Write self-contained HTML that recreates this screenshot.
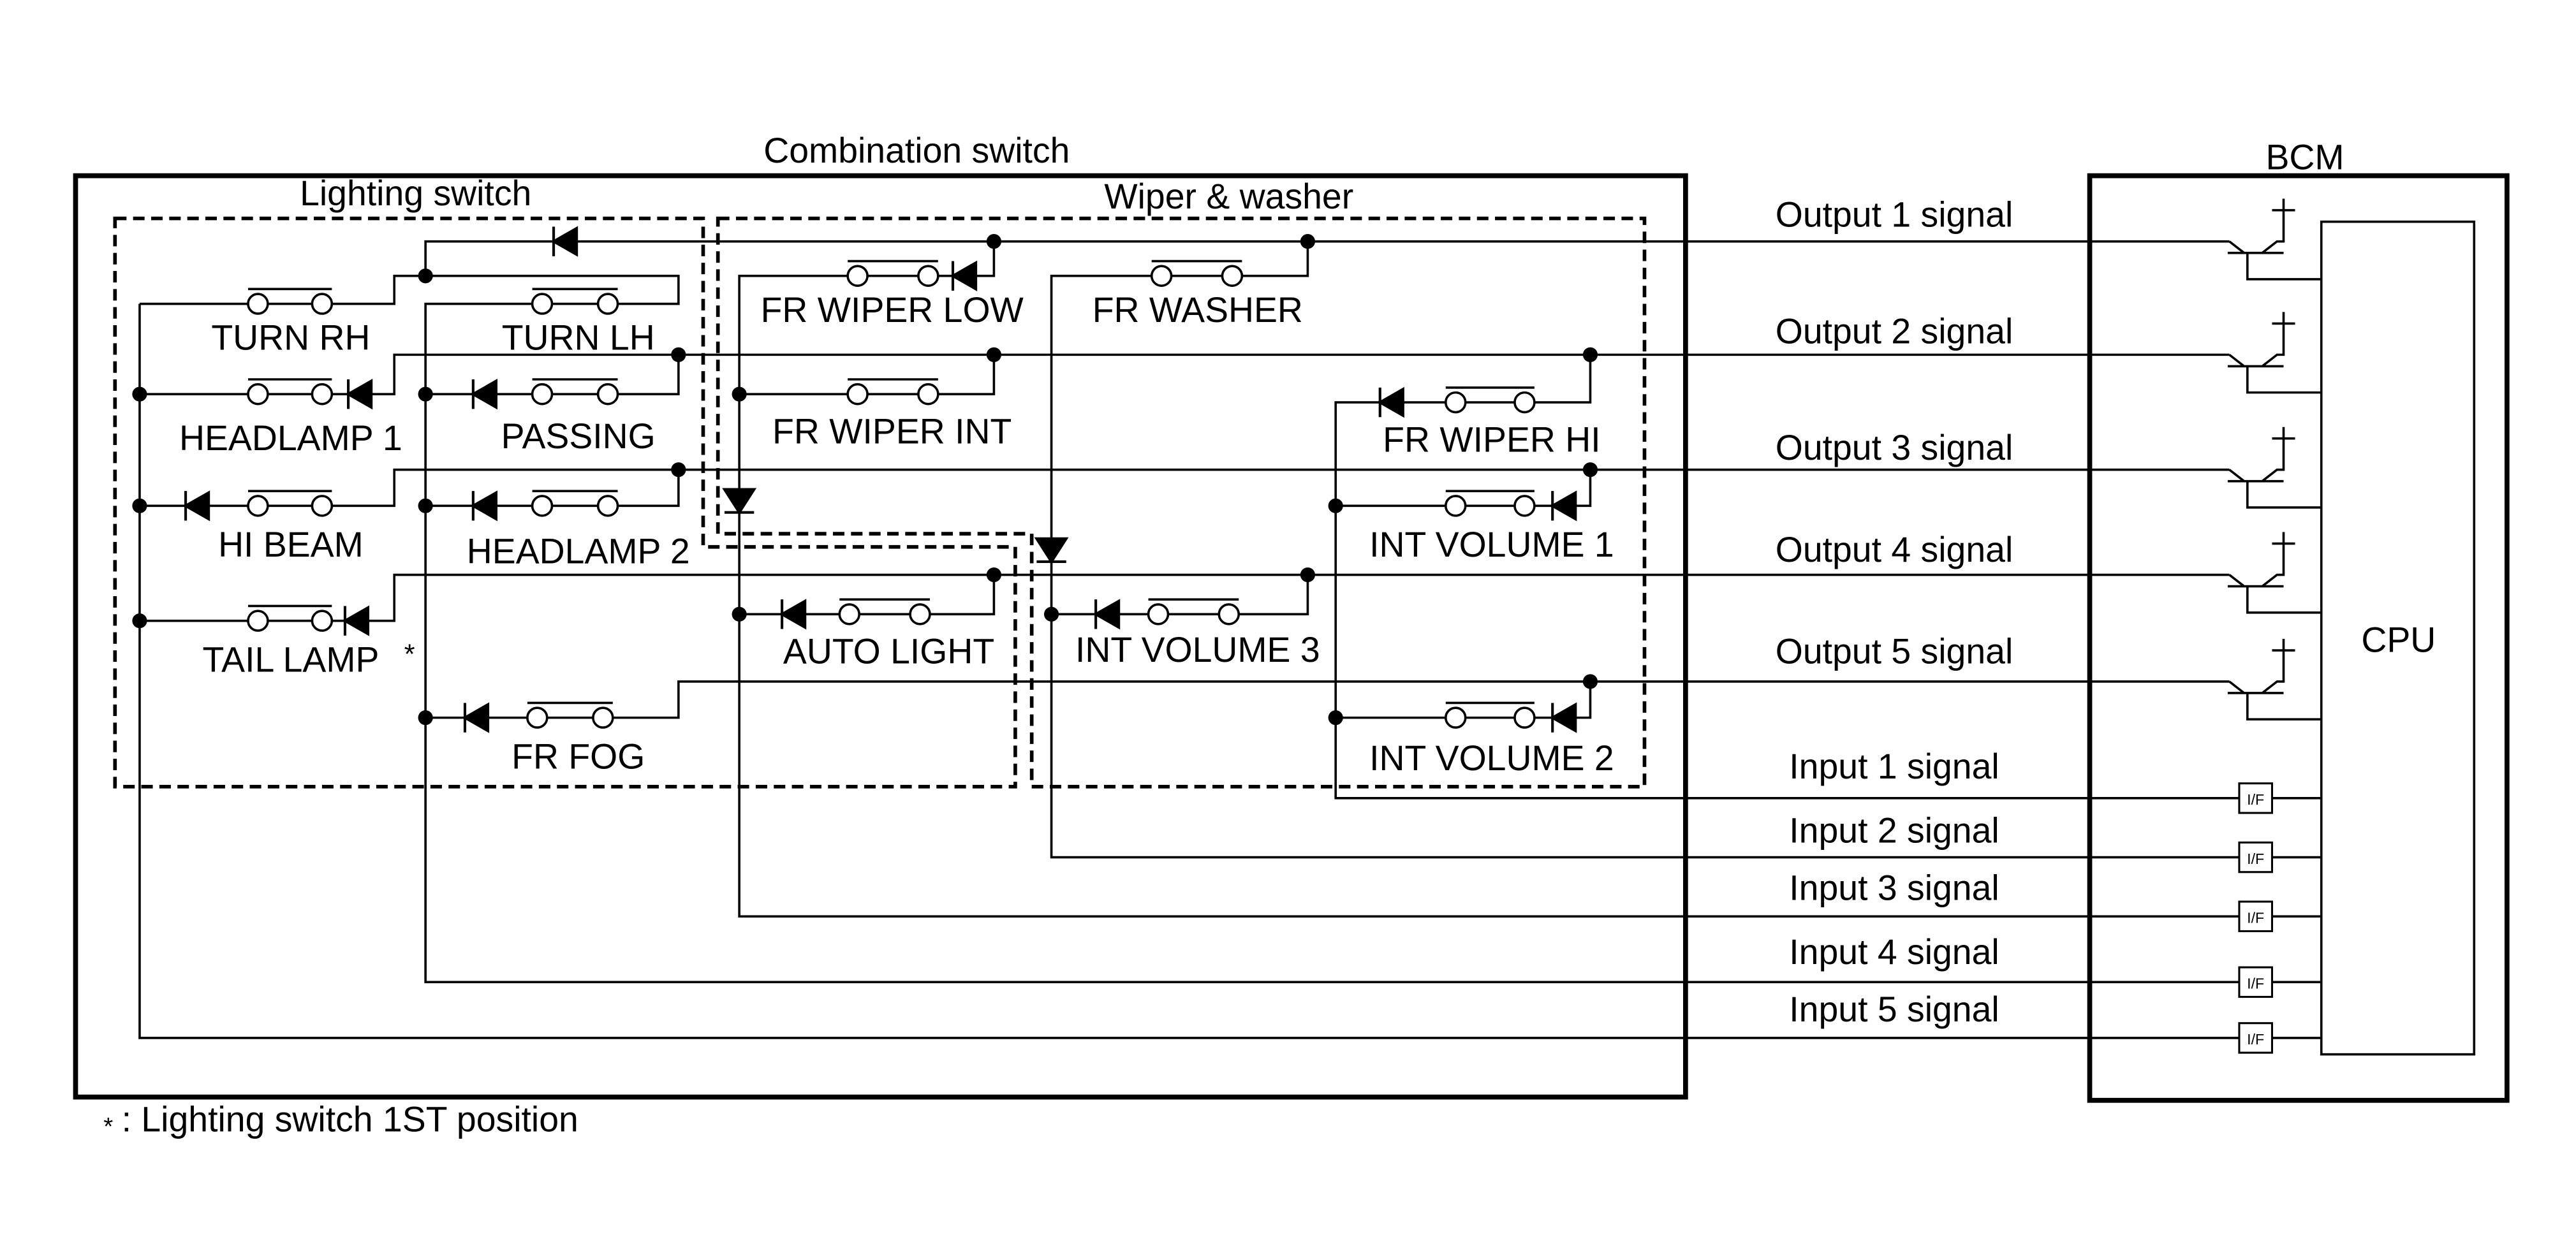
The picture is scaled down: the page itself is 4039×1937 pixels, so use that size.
<!DOCTYPE html>
<html><head><meta charset="utf-8"><style>
html,body{margin:0;padding:0;background:#fff;}
svg{display:block;}
text{font-family:"Liberation Sans",sans-serif;font-size:21.5px;fill:#000;}
</style></head><body>
<svg width="4039" height="1937" viewBox="0 0 1568 752" preserveAspectRatio="none" xmlns="http://www.w3.org/2000/svg">
<rect width="1568" height="752" fill="#fff"/>
<rect x="46" y="107" width="980" height="561" fill="none" stroke="#000" stroke-width="3"/>
<rect x="1272" y="107" width="254" height="563" fill="none" stroke="#000" stroke-width="3"/>
<rect x="1413" y="135" width="93" height="507" fill="none" stroke="#000" stroke-width="1.4"/>
<g fill="none" stroke="#000" stroke-width="2.2" stroke-dasharray="7,4">
<path d="M70 133 H428 V333 H618 V479 H70 Z"/>
<path d="M437 133 H1001 V479 H628 V325 H437 Z"/>
</g>
<text x="558" y="99" text-anchor="middle">Combination switch</text>
<text x="1403" y="103" text-anchor="middle">BCM</text>
<text x="253" y="125" text-anchor="middle">Lighting switch</text>
<text x="748" y="127" text-anchor="middle">Wiper &amp; washer</text>
<text x="1460" y="397" text-anchor="middle">CPU</text>
<g fill="none" stroke="#000" stroke-width="1.4">
<path d="M259 168 V147 H1357"/>
<path d="M85 185 H240 V168 H413 V185 H259 V598 H1363"/>
<path d="M85 185 V632 H1363"/>
<path d="M85 240 H240 V216 H1357"/>
<path d="M85 308 H240 V286 H1357"/>
<path d="M85 378 H240 V350 H1357"/>
<path d="M259 240 H413 V216"/>
<path d="M259 308 H413 V286"/>
<path d="M259 437 H413 V415 H1357"/>
<path d="M605 147 V168 H450 V558 H1363"/>
<path d="M450 240 H605 V216"/>
<path d="M796 147 V168 H640 V522 H1363"/>
<path d="M450 374 H605 V350"/>
<path d="M640 374 H796 V350"/>
<path d="M968 216 V245 H813 V486 H1363"/>
<path d="M813 308 H968 V286"/>
<path d="M813 437 H968 V415"/>
<path d="M1383 486 H1413 M1383 522 H1413 M1383 558 H1413 M1383 598 H1413 M1383 632 H1413"/>
<path d="M1357 147 L1366 154 M1356 154 H1390 M1368 154 V170 H1413 M1377 154 L1386 147 H1390 V135 M1383 128 H1397 M1390 121 V135"/>
<path d="M1357 216 L1366 223 M1356 223 H1390 M1368 223 V239 H1413 M1377 223 L1386 216 H1390 V204 M1383 197 H1397 M1390 190 V204"/>
<path d="M1357 286 L1366 293 M1356 293 H1390 M1368 293 V309 H1413 M1377 293 L1386 286 H1390 V274 M1383 267 H1397 M1390 260 V274"/>
<path d="M1357 350 L1366 357 M1356 357 H1390 M1368 357 V373 H1413 M1377 357 L1386 350 H1390 V338 M1383 331 H1397 M1390 324 V338"/>
<path d="M1357 415 L1366 422 M1356 422 H1390 M1368 422 V438 H1413 M1377 422 L1386 415 H1390 V403 M1383 396 H1397 M1390 389 V403"/>
</g>
<g fill="#fff" stroke="#000" stroke-width="1.2">
<rect x="1363" y="477" width="20" height="18"/>
<rect x="1363" y="513" width="20" height="18"/>
<rect x="1363" y="549" width="20" height="18"/>
<rect x="1363" y="589" width="20" height="18"/>
<rect x="1363" y="623" width="20" height="18"/>
</g>
<g text-anchor="middle">
<text x="1373" y="490" style="font-size:9px">I/F</text>
<text x="1373" y="526" style="font-size:9px">I/F</text>
<text x="1373" y="562" style="font-size:9px">I/F</text>
<text x="1373" y="602" style="font-size:9px">I/F</text>
<text x="1373" y="636" style="font-size:9px">I/F</text>
</g>
<g fill="#fff" stroke="#000" stroke-width="1.4">
<ellipse cx="157" cy="185" rx="6" ry="6"/><ellipse cx="196" cy="185" rx="6" ry="6"/>
<ellipse cx="330" cy="185" rx="6" ry="6"/><ellipse cx="370" cy="185" rx="6" ry="6"/>
<ellipse cx="157" cy="240" rx="6" ry="6"/><ellipse cx="196" cy="240" rx="6" ry="6"/>
<ellipse cx="330" cy="240" rx="6" ry="6"/><ellipse cx="370" cy="240" rx="6" ry="6"/>
<ellipse cx="157" cy="308" rx="6" ry="6"/><ellipse cx="196" cy="308" rx="6" ry="6"/>
<ellipse cx="330" cy="308" rx="6" ry="6"/><ellipse cx="370" cy="308" rx="6" ry="6"/>
<ellipse cx="157" cy="378" rx="6" ry="6"/><ellipse cx="196" cy="378" rx="6" ry="6"/>
<ellipse cx="327" cy="437" rx="6" ry="6"/><ellipse cx="367" cy="437" rx="6" ry="6"/>
<ellipse cx="522" cy="168" rx="6" ry="6"/><ellipse cx="565" cy="168" rx="6" ry="6"/>
<ellipse cx="707" cy="168" rx="6" ry="6"/><ellipse cx="750" cy="168" rx="6" ry="6"/>
<ellipse cx="522" cy="240" rx="6" ry="6"/><ellipse cx="565" cy="240" rx="6" ry="6"/>
<ellipse cx="517" cy="374" rx="6" ry="6"/><ellipse cx="560" cy="374" rx="6" ry="6"/>
<ellipse cx="705" cy="374" rx="6" ry="6"/><ellipse cx="748" cy="374" rx="6" ry="6"/>
<ellipse cx="886" cy="245" rx="6" ry="6"/><ellipse cx="928" cy="245" rx="6" ry="6"/>
<ellipse cx="886" cy="308" rx="6" ry="6"/><ellipse cx="928" cy="308" rx="6" ry="6"/>
<ellipse cx="886" cy="437" rx="6" ry="6"/><ellipse cx="928" cy="437" rx="6" ry="6"/>
</g>
<g stroke="#000" stroke-width="1.4">
<path d="M151 176 H202 M324 176 H376 M151 231 H202 M324 231 H376 M151 299 H202 M324 299 H376 M151 369 H202 M321 428 H373 M516 159 H571 M701 159 H756 M516 231 H571 M511 365 H566 M699 365 H754 M880 236 H934 M880 299 H934 M880 428 H934"/>
</g>
<g fill="#000" stroke="#000" stroke-width="1.6">
<path d="M337 147 L351 139 V155 Z M337 138 V156"/>
<path d="M212 240 L226 232 V248 Z M212 231 V249"/>
<path d="M113 308 L127 300 V316 Z M113 299 V317"/>
<path d="M210 378 L224 370 V386 Z M210 369 V387"/>
<path d="M288 240 L302 232 V248 Z M288 231 V249"/>
<path d="M288 308 L302 300 V316 Z M288 299 V317"/>
<path d="M283 437 L297 429 V445 Z M283 428 V446"/>
<path d="M580 168 L594 160 V176 Z M580 159 V177"/>
<path d="M476 374 L490 366 V382 Z M476 365 V383"/>
<path d="M667 374 L681 366 V382 Z M667 365 V383"/>
<path d="M840 245 L854 237 V253 Z M840 236 V254"/>
<path d="M945 308 L959 300 V316 Z M945 299 V317"/>
<path d="M945 437 L959 429 V445 Z M945 428 V446"/>
<path d="M441 298 H459 L450 312 Z M441 312 H459"/>
<path d="M631 328 H649 L640 342 Z M631 342 H649"/>
</g>
<g fill="#000">
<circle cx="259" cy="168" r="4.5"/><circle cx="605" cy="147" r="4.5"/><circle cx="796" cy="147" r="4.5"/>
<circle cx="413" cy="216" r="4.5"/><circle cx="605" cy="216" r="4.5"/><circle cx="968" cy="216" r="4.5"/>
<circle cx="85" cy="240" r="4.5"/><circle cx="259" cy="240" r="4.5"/><circle cx="450" cy="240" r="4.5"/>
<circle cx="413" cy="286" r="4.5"/><circle cx="968" cy="286" r="4.5"/>
<circle cx="85" cy="308" r="4.5"/><circle cx="259" cy="308" r="4.5"/><circle cx="813" cy="308" r="4.5"/>
<circle cx="605" cy="350" r="4.5"/><circle cx="796" cy="350" r="4.5"/>
<circle cx="85" cy="378" r="4.5"/><circle cx="450" cy="374" r="4.5"/><circle cx="640" cy="374" r="4.5"/>
<circle cx="968" cy="415" r="4.5"/><circle cx="259" cy="437" r="4.5"/><circle cx="813" cy="437" r="4.5"/>
</g>
<g text-anchor="middle">
<text x="177" y="213">TURN RH</text>
<text x="352" y="213">TURN LH</text>
<text x="177" y="274">HEADLAMP 1</text>
<text x="352" y="273">PASSING</text>
<text x="177" y="339">HI BEAM</text>
<text x="352" y="343">HEADLAMP 2</text>
<text x="177" y="409">TAIL LAMP</text>
<text x="352" y="468">FR FOG</text>
<text x="543" y="196">FR WIPER LOW</text>
<text x="729" y="196">FR WASHER</text>
<text x="543" y="270">FR WIPER INT</text>
<text x="541" y="404">AUTO LIGHT</text>
<text x="729" y="403">INT VOLUME 3</text>
<text x="908" y="275">FR WIPER HI</text>
<text x="908" y="339">INT VOLUME 1</text>
<text x="908" y="469">INT VOLUME 2</text>
<text x="1153" y="138">Output 1 signal</text>
<text x="1153" y="209">Output 2 signal</text>
<text x="1153" y="280">Output 3 signal</text>
<text x="1153" y="342">Output 4 signal</text>
<text x="1153" y="404">Output 5 signal</text>
<text x="1153" y="474">Input 1 signal</text>
<text x="1153" y="513">Input 2 signal</text>
<text x="1153" y="548">Input 3 signal</text>
<text x="1153" y="587">Input 4 signal</text>
<text x="1153" y="622">Input 5 signal</text>
</g>
<text x="246" y="404" style="font-size:17px">*</text>
<text x="63" y="691" style="font-size:15px">*</text>
<text x="74" y="689">: Lighting switch 1ST position</text>
</svg>
</body></html>
